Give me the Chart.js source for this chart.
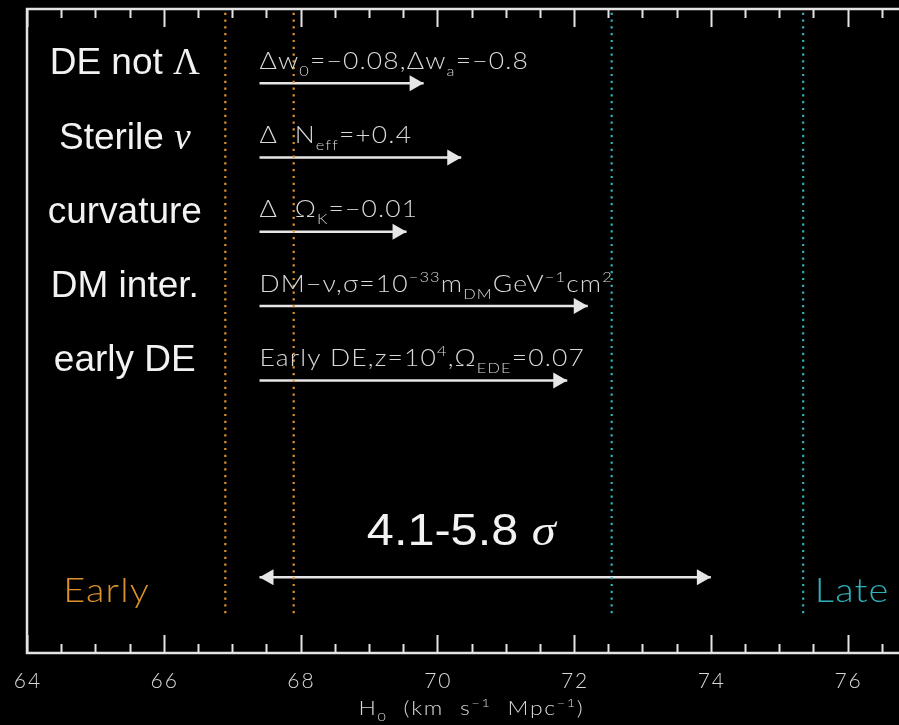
<!DOCTYPE html>
<html>
<head>
<meta charset="utf-8">
<script src="https://cdn.jsdelivr.net/npm/chart.js@4.4.1/dist/chart.umd.min.js"></script>
<style>
  html, body { margin: 0; padding: 0; background: #000; overflow: hidden; }
  #wrap { position: relative; width: 899px; height: 725px; overflow: hidden; background: #000; }
  canvas { display: block; }
</style>
</head>
<body>
<div id="wrap"><canvas id="h0chart" width="940" height="725"></canvas></div>
<script>
// ---- data -------------------------------------------------------------
const models = ['DE not Λ', 'Sterile ν', 'curvature', 'DM inter.', 'early DE'];
const modelParams = [
  'Δw_{0}=−0.08,Δw_{a}=−0.8',
  'Δ  N_{eff}=+0.4',
  'Δ  Ω_{K}=−0.01',
  'DM−ν,σ=10^{−33}m_{DM}GeV^{−1}cm^{2}',
  'Early DE,z=10^{4},Ω_{EDE}=0.07'
];
const h0Planck = 67.4;                              // CMB-inferred H0 (arrow start)
const h0Shifted = [69.8, 70.35, 69.55, 72.2, 71.9];  // H0 after each model change
const h0Local = 74.0;                               // local distance-ladder H0
const tensionLabel = '4.1-5.8 σ';
const earlyBounds = [66.9, 67.9];
const lateBounds = [72.55, 75.35];
const earlyLabel = 'Early';
const lateLabel = 'Late';
const xRange = [64, 77];
const xMajorTicks = [64, 66, 68, 70, 72, 74, 76];
const xMinorStep = 0.5;
const xTitle = 'H_{0}  (km  s^{−1}  Mpc^{−1})';

// ---- layout / style ---------------------------------------------------
const ROW_MIN = -1, ROW_MAX = 7.67;   // model rows are 0..4
const TENSION_ROW = 6.65;
const BOUND_TOP = -0.95, BOUND_BOTTOM = 7.15;
const ZONE_LABEL_ROW = 6.98;
const MODEL_LABEL_X = 65.43;
const TENSION_LABEL_X = 70.35;
const EARLY_LABEL_X = 64.53, LATE_LABEL_X = 75.52;

const FRAME = '#e4e4e4';
const ARROW = '#e6e6e6';
const TEXT = '#f2f2f2';
const THIN_TEXT = '#d8d8d8';
const ORANGE = '#dc922c';
const CYAN = '#2fb0ba';
const THIN_FAMILY = 'Lato, "Open Sans", "DejaVu Sans", sans-serif';
const SANS_FAMILY = '"Liberation Sans", Arial, sans-serif';

// ---- small rich-text helper (sub/superscripts, serif greek) -----------
function parseMarkup(str) {
  const parts = [];
  const re = /([_^])\{([^}]*)\}/g;
  let last = 0, m;
  while ((m = re.exec(str))) {
    if (m.index > last) parts.push({ t: str.slice(last, m.index) });
    parts.push({ t: m[2], v: m[1] === '_' ? 'sub' : 'sup' });
    last = re.lastIndex;
  }
  if (last < str.length) parts.push({ t: str.slice(last) });
  return parts;
}

function greekSerif(str) {
  const parts = [];
  let buf = '';
  for (const ch of str) {
    if (/[\u0370-\u03FF]/.test(ch)) {
      if (buf) { parts.push({ t: buf }); buf = ''; }
      parts.push({ t: ch, f: ch === ch.toUpperCase() ? 'serif' : 'iserif' });
    } else buf += ch;
  }
  if (buf) parts.push({ t: buf });
  return parts;
}

function drawRich(ctx, parts, x, y, o) {
  const stretch = o.stretch || 1;
  const spacing = (o.spacing || 0) + 'px';
  ctx.save();
  ctx.letterSpacing = spacing;
  const runs = parts.map(p => {
    const small = p.v === 'sub' || p.v === 'sup';
    const s = small ? o.size * 0.62 : o.size;
    let font;
    if (p.f === 'serif') font = `${s}px "Liberation Serif"`;
    else if (p.f === 'iserif') font = `italic ${s}px "Liberation Serif"`;
    else font = `${o.weight || 'normal'} ${s}px ${o.family}`;
    ctx.font = font;
    const w = ctx.measureText(p.t).width;
    const dy = p.v === 'sub' ? o.size * 0.3 : p.v === 'sup' ? -o.size * 0.42 : 0;
    return { t: p.t, font, w, dy };
  });
  const total = runs.reduce((a, r) => a + r.w, 0) * stretch;
  const cx = o.align === 'center' ? x - total / 2 : o.align === 'right' ? x - total : x;
  ctx.fillStyle = o.color;
  ctx.textAlign = 'left';
  ctx.textBaseline = 'alphabetic';
  ctx.translate(cx, y);
  ctx.scale(stretch, 1);
  let px = 0;
  runs.forEach(r => { ctx.font = r.font; ctx.fillText(r.t, px, r.dy); px += r.w; });
  ctx.restore();
}

// ---- datasets ---------------------------------------------------------
const datasets = [];
function boundLine(v, color) {
  return {
    data: [{ x: v, y: BOUND_TOP }, { x: v, y: BOUND_BOTTOM }],
    showLine: true, borderColor: color, borderWidth: 2.2, borderDash: [2.2, 4.6],
    pointRadius: 0, pointHoverRadius: 0
  };
}
earlyBounds.forEach(v => datasets.push(boundLine(v, ORANGE)));
lateBounds.forEach(v => datasets.push(boundLine(v, CYAN)));
h0Shifted.forEach((v, i) => datasets.push({
  data: [{ x: h0Planck, y: i }, { x: v, y: i }],
  showLine: true, borderColor: ARROW, borderWidth: 2.5,
  pointRadius: 0, pointHoverRadius: 0, arrowEnd: true
}));
datasets.push({
  data: [{ x: h0Planck, y: TENSION_ROW }, { x: h0Local, y: TENSION_ROW }],
  showLine: true, borderColor: ARROW, borderWidth: 2.5,
  pointRadius: 0, pointHoverRadius: 0, arrowStart: true, arrowEnd: true
});

// ---- frame, inward ticks, arrow heads and annotations -------------------
function arrowHead(ctx, tip, from, color) {
  const dir = Math.sign(tip.x - from.x) || 1;
  const len = 14, half = 8;
  ctx.beginPath();
  ctx.moveTo(tip.x, tip.y);
  ctx.lineTo(tip.x - dir * len, tip.y - half);
  ctx.lineTo(tip.x - dir * len, tip.y + half);
  ctx.closePath();
  ctx.fillStyle = color;
  ctx.fill();
}

const overlay = {
  id: 'overlay',
  afterDatasetsDraw(chart) {
    const { ctx, chartArea: a, scales: { x, y } } = chart;
    ctx.save();

    // frame
    ctx.strokeStyle = FRAME;
    ctx.lineWidth = 2.5;
    ctx.strokeRect(a.left, a.top, a.right - a.left, a.bottom - a.top);

    // inward tick marks on bottom and top edges
    ctx.lineWidth = 2;
    for (let v = xRange[0]; v <= xRange[1] + 1e-9; v += xMinorStep) {
      const px = Math.round(x.getPixelForValue(v)) + 0.5;
      const len = xMajorTicks.includes(v) ? 18 : 9;
      ctx.beginPath();
      ctx.moveTo(px, a.bottom); ctx.lineTo(px, a.bottom - len);
      ctx.moveTo(px, a.top); ctx.lineTo(px, a.top + len);
      ctx.stroke();
    }

    // tick labels
    xMajorTicks.forEach(v => {
      drawRich(ctx, [{ t: String(v) }], x.getPixelForValue(v) + 1, a.bottom + 35,
        { size: 21, family: THIN_FAMILY, weight: 300, color: THIN_TEXT, align: 'center', spacing: 2 });
    });

    // arrow heads
    chart.data.datasets.forEach((ds, i) => {
      const pts = chart.getDatasetMeta(i).data;
      if (ds.arrowEnd) arrowHead(ctx, pts[1], pts[0], ds.borderColor);
      if (ds.arrowStart) arrowHead(ctx, pts[0], pts[1], ds.borderColor);
    });

    // model names and parameter changes
    models.forEach((name, i) => {
      const py = y.getPixelForValue(i);
      drawRich(ctx, greekSerif(name), x.getPixelForValue(MODEL_LABEL_X), py - 9,
        { size: 37, family: SANS_FAMILY, color: TEXT, align: 'center' });
      drawRich(ctx, parseMarkup(modelParams[i]), x.getPixelForValue(h0Planck), py - 14.5,
        { size: 23, family: THIN_FAMILY, weight: 300, color: THIN_TEXT, align: 'left', stretch: 1.15, spacing: 1 });
    });

    // tension label
    drawRich(ctx, greekSerif(tensionLabel), x.getPixelForValue(TENSION_LABEL_X),
      y.getPixelForValue(TENSION_ROW) - 32,
      { size: 45, family: SANS_FAMILY, color: TEXT, align: 'center', stretch: 1.08 });

    // early / late markers
    const zy = y.getPixelForValue(ZONE_LABEL_ROW);
    drawRich(ctx, [{ t: earlyLabel }], x.getPixelForValue(EARLY_LABEL_X), zy,
      { size: 33, family: THIN_FAMILY, weight: 300, color: ORANGE, align: 'left', stretch: 1.15, spacing: 1 });
    drawRich(ctx, [{ t: lateLabel }], x.getPixelForValue(LATE_LABEL_X), zy,
      { size: 33, family: THIN_FAMILY, weight: 300, color: CYAN, align: 'left', stretch: 1.15, spacing: 1 });

    // axis title
    drawRich(ctx, parseMarkup(xTitle), (a.left + a.right) / 2, 715,
      { size: 20, family: THIN_FAMILY, weight: 300, color: THIN_TEXT, align: 'center', stretch: 1.15, spacing: 1.5 });

    ctx.restore();
  }
};

new Chart(document.getElementById('h0chart'), {
  type: 'scatter',
  data: { datasets },
  options: {
    responsive: false,
    animation: false,
    events: [],
    layout: { padding: { left: 27, top: 9, right: 24, bottom: 0 } },
    plugins: { legend: { display: false }, tooltip: { enabled: false } },
    scales: {
      x: {
        type: 'linear',
        min: xRange[0],
        max: xRange[1],
        afterBuildTicks: s => { s.ticks = xMajorTicks.map(v => ({ value: v })); },
        afterFit: s => { s.height = 72; },
        grid: { display: false, drawTicks: false },
        border: { display: false },
        ticks: { display: false }
      },
      y: {
        type: 'linear',
        display: false,
        reverse: true,
        min: ROW_MIN,
        max: ROW_MAX
      }
    }
  },
  plugins: [overlay]
});
</script>
</body>
</html>
